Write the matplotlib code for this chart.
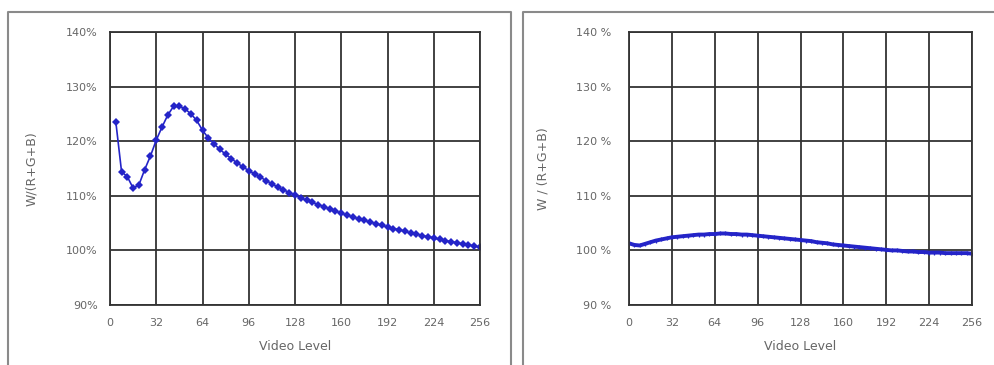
import matplotlib
matplotlib.use("Agg")
import matplotlib.pyplot as plt
from matplotlib.lines import Line2D

# ---- data ----
left_x = [4, 8, 12, 16, 20, 24, 28, 32, 36, 40, 44, 48, 52, 56, 60, 64,
          68, 72, 76, 80, 84, 88, 92, 96, 100, 104, 108, 112, 116, 120, 124, 128,
          132, 136, 140, 144, 148, 152, 156, 160, 164, 168, 172, 176, 180, 184, 188, 192,
          196, 200, 204, 208, 212, 216, 220, 224, 228, 232, 236, 240, 244, 248, 252, 256]
left_y = [123.6, 114.4, 113.5, 111.4, 112.0, 114.8, 117.3, 120.2, 122.6, 124.8, 126.4, 126.4, 125.9, 125.0, 123.8, 122.0,
          120.6, 119.5, 118.5, 117.6, 116.8, 116.0, 115.3, 114.6, 114.0, 113.4, 112.8, 112.2, 111.6, 111.1, 110.6, 110.1,
          109.6, 109.2, 108.8, 108.4, 108.0, 107.6, 107.2, 106.8, 106.5, 106.1, 105.8, 105.5, 105.2, 104.9, 104.6, 104.3,
          104.0, 103.8, 103.5, 103.2, 103.0, 102.7, 102.5, 102.3, 102.0, 101.8, 101.6, 101.4, 101.2, 101.0, 100.8, 100.6]

right_x = [0, 4, 8, 12, 16, 20, 24, 28, 32, 36, 40, 44, 48, 52, 56, 60, 64,
           68, 72, 76, 80, 84, 88, 92, 96, 100, 104, 108, 112, 116, 120, 124, 128,
           132, 136, 140, 144, 148, 152, 156, 160, 164, 168, 172, 176, 180, 184, 188, 192,
           196, 200, 204, 208, 212, 216, 220, 224, 228, 232, 236, 240, 244, 248, 252, 256]
right_y = [101.3, 101.0, 100.9, 101.2, 101.5, 101.8, 102.0, 102.2, 102.4, 102.5, 102.6, 102.7, 102.8, 102.9, 102.9, 103.0, 103.0,
           103.1, 103.1, 103.0, 103.0, 102.9, 102.9, 102.8, 102.7, 102.6, 102.5, 102.4, 102.3, 102.2, 102.1, 102.0, 101.9,
           101.8, 101.7, 101.5, 101.4, 101.3, 101.1, 101.0, 100.9, 100.8, 100.7, 100.6, 100.5, 100.4, 100.3, 100.2, 100.1,
           100.0, 100.0, 99.9, 99.8, 99.8, 99.7, 99.7, 99.6, 99.6, 99.6, 99.5, 99.5, 99.5, 99.5, 99.5, 99.4]

x_ticks = [0, 32, 64, 96, 128, 160, 192, 224, 256]
y_ticks = [90, 100, 110, 120, 130, 140]
left_ytick_labels = ["90%", "100%", "110%", "120%", "130%", "140%"]
right_ytick_labels = ["90 %", "100 %", "110 %", "120 %", "130 %", "140 %"]
x_label = "Video Level"
left_ylabel = "W/(R+G+B)"
right_ylabel = "W / (R+G+B)"

W, H = 994, 365
fig = plt.figure(figsize=(W / 100, H / 100), dpi=100)
fig.patch.set_facecolor("white")

blue = "#2424c8"
gridc = "#333333"
txtc = "#666666"

def make_ax(x0, x1, ylabels, ylabel, pad_y, ylabx):
    ax = fig.add_axes([x0 / W, (H - 305) / H, (x1 - x0) / W, 273 / H])
    ax.set_xlim(0, 256)
    ax.set_ylim(90, 140)
    ax.set_xticks(x_ticks)
    ax.set_xticklabels([str(t) for t in x_ticks])
    ax.set_yticks(y_ticks)
    ax.set_yticklabels(ylabels)
    ax.grid(True, color=gridc, linewidth=1.3)
    ax.set_axisbelow(True)
    for s in ax.spines.values():
        s.set_color(gridc)
        s.set_linewidth(1.3)
    ax.tick_params(length=0, labelsize=8, colors=txtc)
    ax.tick_params(axis="x", pad=9)
    ax.tick_params(axis="y", pad=pad_y)
    ax.set_xlabel(x_label, fontsize=9, color=txtc, labelpad=9)
    ax.set_ylabel(ylabel, fontsize=9, color=txtc)
    ax.yaxis.set_label_coords((ylabx - x0) / (x1 - x0), 0.5)
    return ax

ax1 = make_ax(110, 480, left_ytick_labels, left_ylabel, 9, 38)
ax1.plot(left_x, left_y, color=blue, linewidth=1.2, marker="D", markersize=4.2,
         markeredgewidth=0)

ax2 = make_ax(629, 972, right_ytick_labels, right_ylabel, 13, 550)
ax2.plot(right_x, right_y, color=blue, linewidth=2.8, marker="+", markersize=3.5,
         markeredgewidth=0.9)

# outer panel borders
def fline(xs, ys):
    fig.add_artist(Line2D([x / W for x in xs], [1 - y / H for y in ys],
                          color="#8a8a8a", linewidth=1.5))

fline([8, 8, 511, 511], [365, 12, 12, 365])
fline([523, 523, 994], [365, 12, 12])

fig.savefig("out.png", dpi=100, facecolor="white")
